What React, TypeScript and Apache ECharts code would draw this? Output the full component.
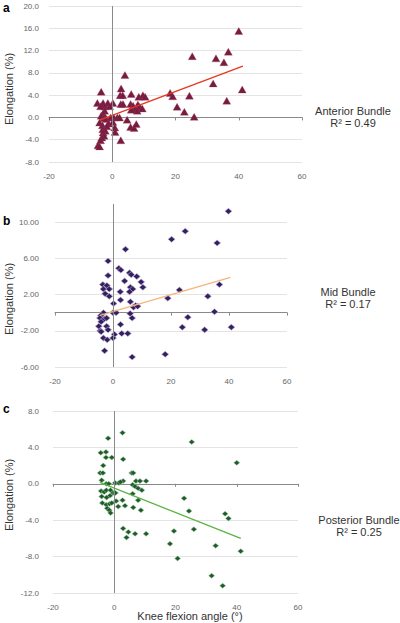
import React, { useEffect, useRef } from "react";
import * as echarts from "echarts";

// Knee flexion angle (deg) vs elongation (%) for three bundles
const anteriorX = [40.0, 36.7, 25.3, 32.8, 35.3, 31.9, 41.1, 18.3, 19.1, 24.4, 36.2, 20.5, 22.8, 25.9,
  4.0, 2.8, -3.5, 2.5, 3.3, 6.0, 8.4, 9.7, 10.4,
  -4.7, -2.9, -1.4, 0.2, -2.4, -0.8, -3.7,
  2.7, 3.4, 5.8, 6.6, 8.1, 8.7, 7.2, 7.9, 9.5, 6.0,
  -2.4, -2.9, -3.5, -2.6, -1.9,
  -0.5, 0.5, 1.6, 2.3,
  -4.0, -3.1, -1.2, -1.7, 0.2,
  4.7, 5.8, 6.9, 7.6,
  -3.0, -2.2, 0.8, -2.9, 0.9, -2.6, -3.3, -3.7, 2.7, -4.5, -4.0];
const anteriorY = [15.5, 11.8, 11.0, 10.6, 9.9, 6.1, 5.0, 4.4, 3.8, 3.9, 3.0, 1.9, 1.0, 0.1,
  7.6, 5.2, 4.6, 4.0, 4.0, 4.2, 3.7, 4.0, 3.7,
  2.6, 2.6, 2.6, 2.6, 2.0, 2.0, 2.0,
  2.4, 2.4, 2.4, 2.1, 2.3, 1.9, 1.5, 1.2, 1.6, 1.4,
  1.2, 0.7, 0.3, -0.1, -0.3,
  0.0, 0.0, 0.0, 0.0,
  -0.9, -1.4, -1.1, -1.6, -0.8,
  -0.4, -1.7, -1.9, -1.2,
  -2.1, -2.4, -1.8, -2.7, -2.6, -3.3, -3.6, -4.1, -4.1, -5.0, -5.2];

const midX = [39.8, 24.9, 20.2, 35.9, 4.3, -1.7, 2.0, 2.7, 5.7, 6.3, -1.7, 8.2, 4.0, 9.7, -3.5, -2.1, 36.7,
  10.3, 6.0, -3.3, -1.3, 6.8, 22.9, 5.7, 2.5, -2.7, -1.3, 32.7, 18.9, 2.6, 6.0, 0.2, 7.8, 7.1, 8.5, 35.0,
  0.0, 1.1, -3.3, -4.2, 5.9, 6.6, 25.8, -4.5, -3.0, -2.2, -4.1, -2.2, -4.9, 23.9, 40.8, -1.7, -4.4, -4.1,
  31.6, 2.6, 3.0, 5.1, 0.5, 0.0, -3.3, -2.0, -2.9, 6.6, 18.0];
const midY = [11.2, 9.0, 8.1, 7.7, 7.0, 5.7, 4.9, 4.7, 4.4, 4.2, 4.1, 4.0, 3.5, 3.4, 3.1, 3.0, 3.1,
  2.8, 2.8, 2.6, 2.6, 2.6, 2.5, 2.3, 2.3, 2.1, 1.8, 1.8, 1.6, 1.4, 1.2, 1.0, 0.8, 0.6, 0.7, 0.1,
  0.0, 0.0, 0.0, -0.3, -0.1, -0.6, -0.5, -0.6, -0.7, -0.6, -1.0, -1.5, -1.5, -1.6, -1.6, -1.9, -2.0, -2.1,
  -1.9, -1.3, -2.3, -2.3, -2.4, -2.8, -2.8, -3.0, -4.2, -4.9, -4.6];

const posteriorX = [2.7, -2.0, 25.3, -4.4, -2.7, -0.8, -2.7, 2.9, 40.0, -3.6, -4.6, -3.7, 5.7, 6.2, -4.1,
  2.9, 7.1, 8.4, 10.4, 0.3, 1.5, 2.0, -2.6, -1.8, 6.0, 6.8, 7.8, 9.0,
  -4.3, -3.3, -2.6, -1.2, -0.4, 0.4, -4.1, -1.4, -2.5, 6.0, 7.8, 2.7, 0.6, 22.8,
  -3.9, -2.6, -1.5, -0.8, 1.3, 3.5, 6.2, -2.3, -1.6, 8.7, -1.2, 24.4, 36.2, 37.3,
  2.9, 26.0, 4.6, 6.8, 10.4, 4.0, 19.5, 18.2, 33.1, 41.3, 20.7, 31.8, 35.4];
const posteriorY = [5.6, 5.0, 4.6, 3.4, 3.5, 2.9, 2.9, 2.7, 2.3, 2.0, 1.2, 1.2, 1.2, 1.2, 0.4,
  0.3, 0.3, 0.3, 0.3, 0.1, 0.1, 0.2, 0.0, 0.0, -0.1, -0.3, -0.5, -0.7,
  -0.8, -0.9, -0.7, -0.7, -1.0, -1.0, -1.4, -1.3, -1.5, -1.1, -1.8, -1.8, -1.9, -1.6,
  -2.1, -2.3, -2.2, -2.1, -2.5, -2.4, -2.6, -2.7, -2.9, -2.9, -3.2, -3.0, -3.3, -3.8,
  -4.9, -5.0, -5.3, -5.5, -5.5, -5.9, -5.2, -6.6, -6.8, -7.4, -8.2, -10.1, -11.2];

// fitted trend lines (start / end points)
const anteriorTrendX = [-4.0, 41.3];
const anteriorTrendY = [-0.5, 9.2];
const midTrendX = [-4.5, 40.5];
const midTrendY = [-0.3, 3.9];
const posteriorTrendX = [-4.7, 41.3];
const posteriorTrendY = [0.15, -6.0];

const xTickStep = 20;
const panelLetters = ["a", "b", "c"];
const bundleNames = ["Anterior Bundle", "Mid Bundle", "Posterior Bundle"];
const rSquared = ["0.49", "0.17", "0.25"];
const yLabel = "Elongation (%)";
const xLabel = "Knee flexion angle (°)";

const zip = (xs: number[], ys: number[]) => xs.map((x, i) => [x, ys[i]]);

const FONT = "'Liberation Sans', Arial, Helvetica, sans-serif";

export default function App() {
  const ref = useRef<HTMLDivElement>(null);
  useEffect(() => {
    if (!ref.current) return;
    const chart = echarts.init(ref.current, undefined, { renderer: "svg" });

    const grids = [
      { left: 49, top: 6, width: 253, height: 156 },
      { left: 55, top: 204, width: 232, height: 163 },
      { left: 53, top: 411, width: 245, height: 182 },
    ];
    const yCfg = [
      { min: -8, max: 20, fmt: (v: number) => v.toFixed(1), margin: 10 },
      { min: -6, max: 12, fmt: (v: number) => (v === 12 ? "" : v.toFixed(2)), margin: 16 },
      { min: -12, max: 8, fmt: (v: number) => v.toFixed(1), margin: 14 },
    ];

    const xAxis = grids.map((_, i) => ({
      type: "value",
      gridIndex: i,
      min: -20,
      max: 60,
      interval: xTickStep,
      axisLine: { onZero: true, lineStyle: { color: "#8a8a8a", width: 1 } },
      axisTick: { show: true, length: 3, lineStyle: { color: "#8a8a8a" } },
      axisLabel: { color: "#666", fontSize: 8, margin: 10, fontFamily: FONT },
      splitLine: { show: false },
    }));

    const yAxis = yCfg.map((c, i) => ({
      type: "value",
      gridIndex: i,
      min: c.min,
      max: c.max,
      interval: 4,
      axisLine: { show: false },
      axisTick: { show: false },
      axisLabel: { color: "#666", fontSize: 8, margin: c.margin, formatter: c.fmt, fontFamily: FONT },
      splitLine: { show: true, showMaxLine: i !== 1, lineStyle: { color: "#e4e4e4", width: 1 } },
    }));

    const zeroLine = {
      silent: true,
      symbol: ["none", "none"],
      label: { show: false },
      lineStyle: { color: "#8a8a8a", width: 1, type: "solid" },
      emphasis: { disabled: true },
      data: [{ xAxis: 0 }],
    };

    const scatter = [
      { data: zip(anteriorX, anteriorY), symbol: "triangle", size: [8, 7], color: "#771c40", border: "#a04060", bw: 0.3 },
      { data: zip(midX, midY), symbol: "diamond", size: [7, 6], color: "#33215e", border: "#c3b4e0", bw: 0.6 },
      { data: zip(posteriorX, posteriorY), symbol: "diamond", size: [6, 5], color: "#1e5c2b", border: "#a6cfa6", bw: 0.5 },
    ];
    const trends = [
      { data: zip(anteriorTrendX, anteriorTrendY), color: "#e5381f" },
      { data: zip(midTrendX, midTrendY), color: "#f5b47e" },
      { data: zip(posteriorTrendX, posteriorTrendY), color: "#5bb445" },
    ];

    const series: any[] = [];
    scatter.forEach((s, i) => {
      series.push({
        type: "scatter",
        xAxisIndex: i,
        yAxisIndex: i,
        data: s.data,
        symbol: s.symbol,
        symbolSize: s.size,
        itemStyle: { color: s.color, borderColor: s.border, borderWidth: s.bw, opacity: 1 },
        markLine: zeroLine,
        z: 3,
      });
      series.push({
        type: "line",
        xAxisIndex: i,
        yAxisIndex: i,
        data: trends[i].data,
        showSymbol: false,
        symbol: "none",
        lineStyle: { color: trends[i].color, width: 1.3 },
        z: 4,
      });
    });

    const letterTops = [2, 215, 403];
    const yLabelCenters = [89, 299, 495];
    const bundleY = [111, 292, 520];
    const bundleX = [353, 348, 359];

    const graphic: any[] = [];
    panelLetters.forEach((l, i) => {
      graphic.push({
        type: "text",
        x: 3,
        y: letterTops[i],
        style: { text: l, font: `bold 12px ${FONT}`, fill: "#000", textVerticalAlign: "top" },
      });
      graphic.push({
        type: "text",
        x: 9,
        y: yLabelCenters[i],
        rotation: Math.PI / 2,
        style: { text: yLabel, font: `11px ${FONT}`, fill: "#333", textAlign: "center", textVerticalAlign: "middle" },
      });
      graphic.push({
        type: "text",
        x: bundleX[i],
        y: bundleY[i],
        style: { text: bundleNames[i], font: `11px ${FONT}`, fill: "#333", textAlign: "center", textVerticalAlign: "middle" },
      });
      graphic.push({
        type: "text",
        x: bundleX[i],
        y: bundleY[i] + 12,
        style: { text: `R² = ${rSquared[i]}`, font: `11px ${FONT}`, fill: "#333", textAlign: "center", textVerticalAlign: "middle" },
      });
    });
    graphic.push({
      type: "text",
      x: 190,
      y: 616,
      style: { text: xLabel, font: `11px ${FONT}`, fill: "#333", textAlign: "center", textVerticalAlign: "middle" },
    });

    chart.setOption({
      animation: false,
      backgroundColor: "#fff",
      textStyle: { fontFamily: FONT },
      grid: grids,
      xAxis,
      yAxis,
      series,
      graphic,
    });
    return () => chart.dispose();
  }, []);

  return (
    <div
      ref={ref}
      style={{ position: "fixed", left: 0, top: 0, width: 400, height: 623, background: "#fff" }}
    />
  );
}
